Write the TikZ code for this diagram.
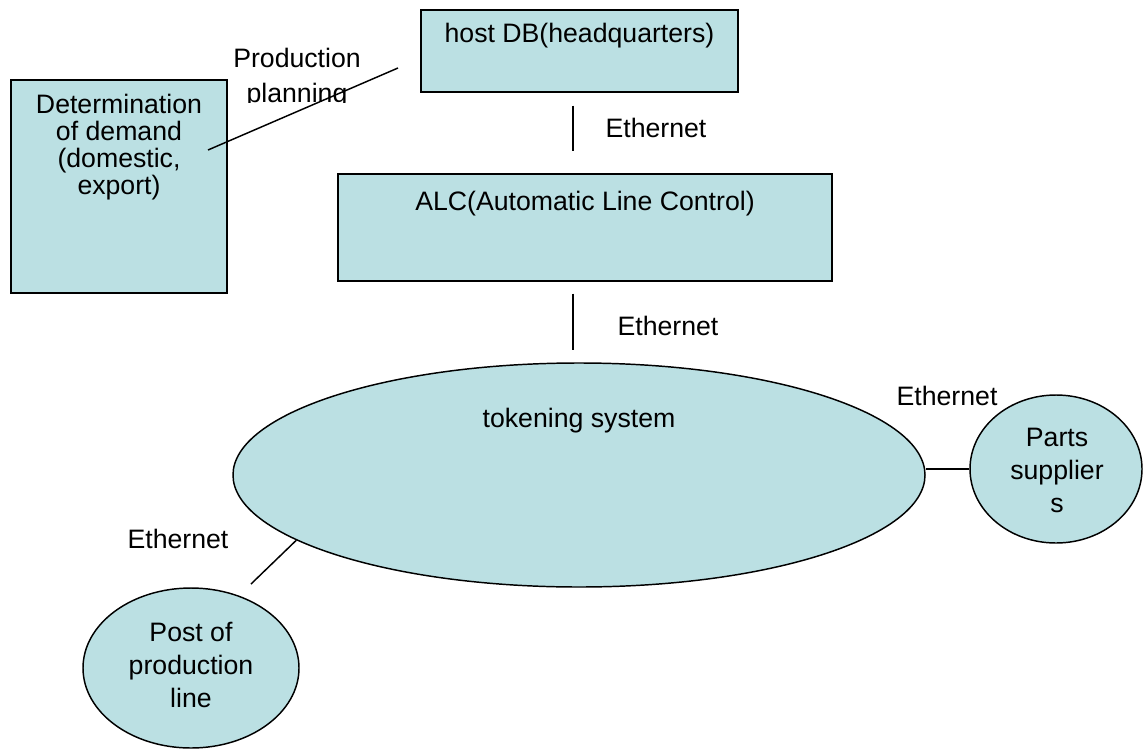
\documentclass[tikz,border=0pt]{standalone}
\usepackage{fontspec}
\setmainfont{Liberation Sans}
\usetikzlibrary{positioning, shapes.geometric, calc}
\definecolor{paleteal}{HTML}{BBE0E3}

\begin{document}
\begin{tikzpicture}[x=0.75pt, y=-0.75pt, line width=1.1pt,
  block/.style={draw, fill=paleteal, rectangle, inner sep=0pt},
  station/.style={draw, fill=paleteal, ellipse, inner sep=0pt},
  txt/.style={font=\fontsize{20}{24.5}\selectfont, align=center, inner sep=0pt, anchor=base},
  ]
  \useasboundingbox (0,0) rectangle (1144,749);

  % boxes and stations
  \node[block, minimum width=237.75pt, minimum height=61.5pt] (host) at (579.5,51) {};
  \node[block, minimum width=162pt, minimum height=159.75pt] (demand) at (119,186.5) {};
  \node[block, minimum width=370.5pt, minimum height=80.25pt] (alc) at (585,227.5) {};
  \node[station, minimum width=519pt, minimum height=168pt] (token) at (579,475) {};
  \node[station, minimum width=129pt, minimum height=111pt] (parts) at (1056,469) {};
  \node[station, minimum width=162pt, minimum height=120pt] (post) at (191,668) {};

  % texts, set at the top of each shape (base = last line)
  \node[txt] (hostName) at (579.5,43) {host DB(headquarters)};
  \node[txt, font=\fontsize{20}{20.25}\selectfont] (demandName) at (119,194) {Determination\\of demand\\(domestic,\\export)};
  \node[txt] (alcName) at (585,210) {ALC(Automatic Line Control)};
  \node[txt] (tokenName) at (579,427) {tokening system};
  \node[txt] (partsName) at (1057,512) {Parts\\supplier\\s};
  \node[txt] (postName) at (191,707) {Post of\\production\\line};
  \begin{scope}
    \clip (200,30) rectangle (400,102);
    \node[txt, font=\fontsize{20}{25.5}\selectfont] (planName) at (297,102) {Production\\planning};
  \end{scope}

  % network labels
  \node[txt] (ethUp) at (656,137) {Ethernet};
  \node[txt] (ethMid) at (668,335) {Ethernet};
  \node[txt] (ethParts) at (947,405) {Ethernet};
  \node[txt] (ethPost) at (178,548) {Ethernet};

  % links
  \coordinate (trunk) at (573,0);
  \coordinate (planFrom) at (208,150);
  \coordinate (planTo) at (398,68);
  \coordinate (postTip) at (251,584);
  \draw[shorten <=9.75pt, shorten >=16.5pt] (host.south -| trunk) -- (alc.north -| trunk);
  \draw[shorten <=9pt, shorten >=9pt] (alc.south -| trunk) -- (token.north -| trunk);
  \draw (token.east |- parts.west) -- (parts.west);
  \draw (token.193) -- (postTip);
  \draw (planFrom) -- (planTo);
\end{tikzpicture}
\end{document}
